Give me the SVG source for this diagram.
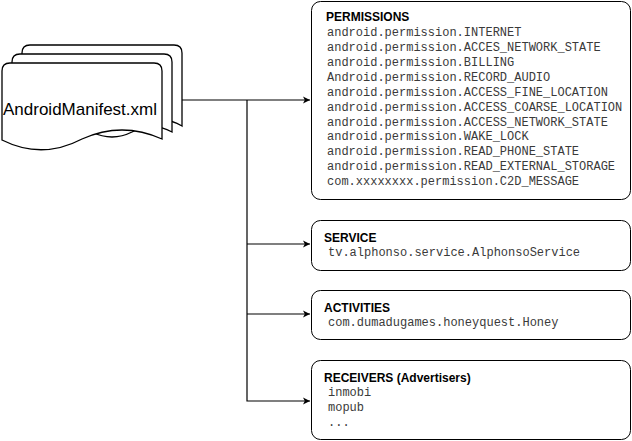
<svg xmlns="http://www.w3.org/2000/svg" width="632" height="441" viewBox="0 0 632 441">
<defs>
<marker id="arr" markerWidth="8" markerHeight="8" refX="7" refY="4" orient="auto" markerUnits="userSpaceOnUse">
<path d="M0,0.5 L7,4 L0,7.5 L1.8,4 Z" fill="#000"/>
</marker>
</defs>
<style>
.box{fill:#fff;stroke:#000;stroke-width:1}
.doc{fill:#fff;stroke:#000;stroke-width:1.3}
.hd{font-family:"Liberation Sans",Arial,sans-serif;font-size:12px;font-weight:bold;fill:#000}
.mono{font-family:"Liberation Mono","Courier New",monospace;font-size:12px;fill:#3a3a3a}
.lbl{font-family:"Liberation Sans",Arial,sans-serif;font-size:17px;fill:#000}
.con{fill:none;stroke:#000;stroke-width:1.2}
</style>
<g id="manifest">
<path class="doc" d="M22,53 Q22,45 30,45 L174,45 Q182,45 182,53 L182,126 Q162,114 142,126 Q122,136 102,126 Q62,108 22,126 Z"/>
<path class="doc" d="M12,62 Q12,54 20,54 L164,54 Q172,54 172,62 L172,132 Q152,121 132,132 Q112,142 92,132 Q52,114 12,132 Z"/>
<path class="doc" d="M2,71 Q2,63 10,63 L154,63 Q162,63 162,71 L162,139 Q122,121 82,139 Q42,160 2,140 Z"/>
<text class="lbl" x="80" y="115" text-anchor="middle">AndroidManifest.xml</text>
</g>
<g id="connectors">
<path class="con" d="M182,100 L310,100" marker-end="url(#arr)"/>
<path class="con" d="M247,100 L247,401 L310,401" marker-end="url(#arr)"/>
<path class="con" d="M247,244 L310,244" marker-end="url(#arr)"/>
<path class="con" d="M247,314 L310,314" marker-end="url(#arr)"/>
</g>
<g id="permissions">
<rect class="box" x="311.5" y="1.5" width="319" height="198" rx="9"/>
<text class="hd" x="326" y="21">PERMISSIONS</text>
<text class="mono" x="327" y="36">android.permission.INTERNET</text>
<text class="mono" x="327" y="51">android.permission.ACCES_NETWORK_STATE</text>
<text class="mono" x="327" y="66">android.permission.BILLING</text>
<text class="mono" x="327" y="81">Android.permission.RECORD_AUDIO</text>
<text class="mono" x="327" y="96">android.permission.ACCESS_FINE_LOCATION</text>
<text class="mono" x="327" y="111">android.permission.ACCESS_COARSE_LOCATION</text>
<text class="mono" x="327" y="126">android.permission.ACCESS_NETWORK_STATE</text>
<text class="mono" x="327" y="140">android.permission.WAKE_LOCK</text>
<text class="mono" x="327" y="155">android.permission.READ_PHONE_STATE</text>
<text class="mono" x="327" y="170">android.permission.READ_EXTERNAL_STORAGE</text>
<text class="mono" x="327" y="185">com.xxxxxxxx.permission.C2D_MESSAGE</text>
</g>
<g id="service">
<rect class="box" x="311.5" y="220.5" width="319" height="50" rx="9"/>
<text class="hd" x="324" y="242">SERVICE</text>
<text class="mono" x="328" y="256">tv.alphonso.service.AlphonsoService</text>
</g>
<g id="activities">
<rect class="box" x="311.5" y="290.5" width="319" height="49" rx="9"/>
<text class="hd" x="324" y="312">ACTIVITIES</text>
<text class="mono" x="328" y="326">com.dumadugames.honeyquest.Honey</text>
</g>
<g id="receivers">
<rect class="box" x="311.5" y="360.5" width="319" height="79" rx="9"/>
<text class="hd" x="324" y="382">RECEIVERS (Advertisers)</text>
<text class="mono" x="328" y="396">inmobi</text>
<text class="mono" x="328" y="411">mopub</text>
<text class="mono" x="328" y="426">...</text>
</g>
</svg>
